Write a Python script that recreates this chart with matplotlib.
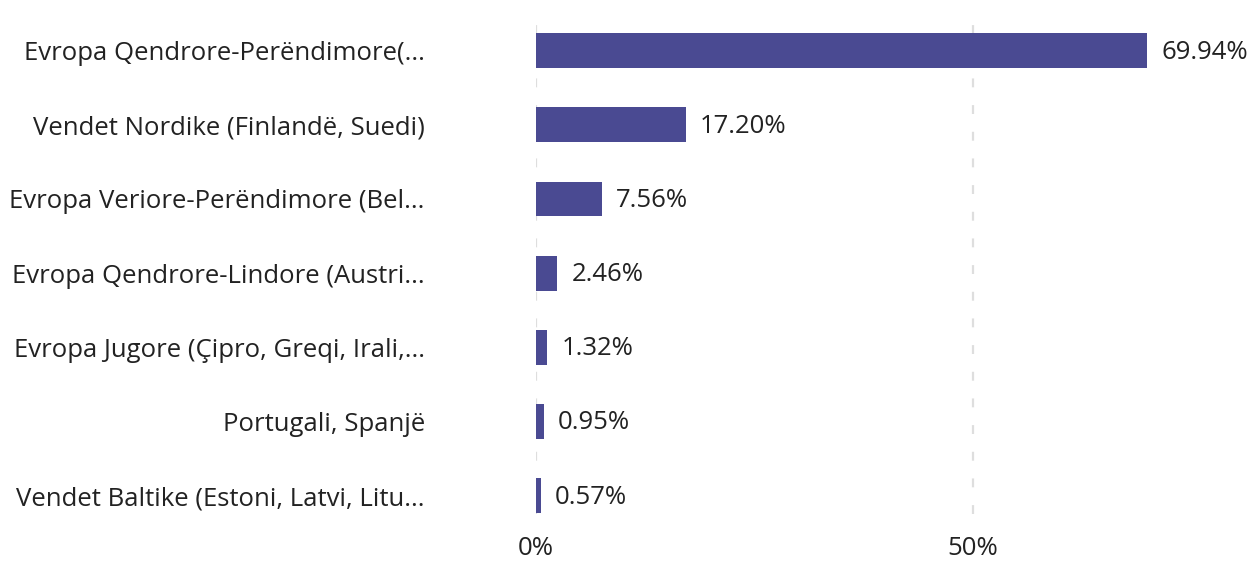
import matplotlib.pyplot as plt

# ------------------------------------------
# Data
# ------------------------------------------

regions = [
    "Evropa Qendrore-Perëndimore(...",
    "Vendet Nordike (Finlandë, Suedi)",
    "Evropa Veriore-Perëndimore (Bel...",
    "Evropa Qendrore-Lindore (Austri...",
    "Evropa Jugore (Çipro, Greqi, Irali,...",
    "Portugali, Spanjë",
    "Vendet Baltike (Estoni, Latvi, Litu...",
]
shares = [69.94, 17.20, 7.56, 2.46, 1.32, 0.95, 0.57]
x_ticks = [0, 50]

# ------------------------------------------
# Plot
# ------------------------------------------

plt.rcParams["font.family"] = ["Open Sans", "DejaVu Sans"]

BAR_COLOR = "#4a4a92"
TEXT_COLOR = "#222222"
FS = 18.5

fig = plt.figure(figsize=(12.58, 5.79), dpi=100)
ax = fig.add_axes([0.426, 0.112, 0.556, 0.871])

pos = list(range(len(regions)))
ax.barh(pos, shares, height=0.47, color=BAR_COLOR, zorder=3)

for p, v in zip(pos, shares):
    ax.annotate(
        f"{v:.2f}%",
        xy=(v, p),
        xytext=(10, -1),
        textcoords="offset points",
        va="center",
        ha="left",
        fontsize=FS,
        color=TEXT_COLOR,
    )

ax.set_xlim(0, 80)
ax.set_ylim(6.25, -0.55)

ax.set_yticks(pos)
ax.set_yticklabels(regions, fontsize=FS, color=TEXT_COLOR)
ax.set_xticks(x_ticks)
ax.set_xticklabels([f"{t}%" for t in x_ticks], fontsize=FS, color=TEXT_COLOR)

ax.tick_params(axis="y", length=0, pad=80)
ax.tick_params(axis="x", length=0, pad=16)

ax.grid(axis="x", color="#dedede", linestyle=(0, (4, 8)), linewidth=1.6, zorder=0)
ax.grid(axis="y", visible=False)

for s in ax.spines.values():
    s.set_visible(False)

plt.savefig("out.png", dpi=100)
